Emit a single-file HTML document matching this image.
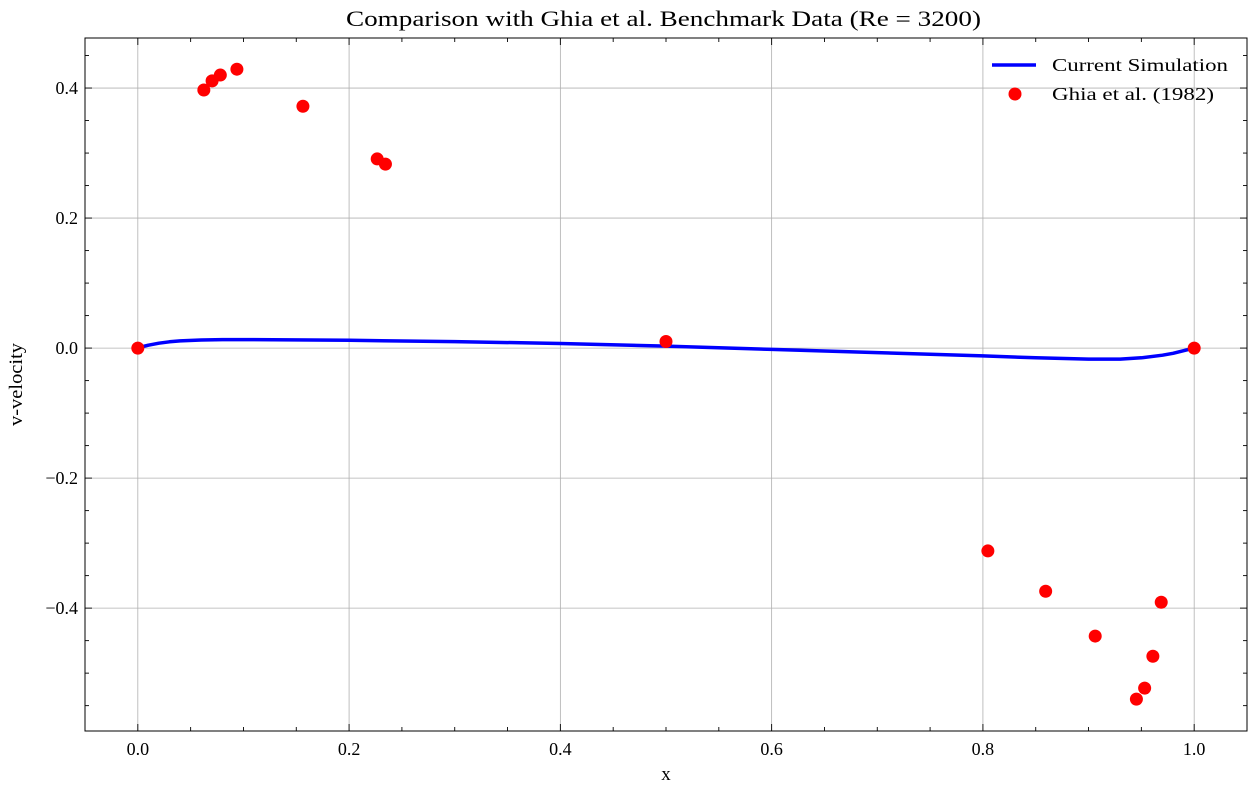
<!DOCTYPE html>
<html><head><meta charset="utf-8"><style>
body{margin:0;background:#fff;}
svg text{font-family:"Liberation Serif","DejaVu Serif",serif;fill:#000;}
</style></head><body>
<svg id="chart" width="1254" height="791" xmlns="http://www.w3.org/2000/svg"></svg>
<script>
const xTicks=[0,0.2,0.4,0.6,0.8,1.0];
const xTickLabels=["0.0","0.2","0.4","0.6","0.8","1.0"];
const yTicks=[-0.4,-0.2,0,0.2,0.4];
const yTickLabels=["\u22120.4","\u22120.2","0.0","0.2","0.4"];
const ghiaX=[0,0.0625,0.0703,0.0781,0.0938,0.1563,0.2266,0.2344,0.5,0.8047,0.8594,0.9063,0.9453,0.9531,0.9609,0.9688,1.0];
const ghiaY=[0,0.397,0.411,0.420,0.429,0.372,0.291,0.283,0.0101,-0.312,-0.374,-0.443,-0.540,-0.523,-0.474,-0.391,0];
const simX=[0,0.005,0.01,0.02,0.03,0.04,0.06,0.08,0.1,0.2,0.3,0.4,0.5,0.6,0.7,0.8,0.85,0.9,0.93,0.95,0.97,0.98,0.99,1.0];
const simY=[0,0.0025,0.0045,0.0075,0.0097,0.011,0.0125,0.013,0.013,0.012,0.010,0.007,0.003,-0.002,-0.007,-0.012,-0.015,-0.017,-0.017,-0.015,-0.011,-0.008,-0.004,0];

const L=85,R=1247,T=38,B=731;
const xmin=-0.05,xmax=1.05,ymin=-0.589,ymax=0.477;
const sx=v=>L+(v-xmin)/(xmax-xmin)*(R-L);
const sy=v=>B-(v-ymin)/(ymax-ymin)*(B-T);
const svg=document.getElementById('chart');
const NS="http://www.w3.org/2000/svg";
function mk(tag,attrs,parent){const e=document.createElementNS(NS,tag);for(const k in attrs)e.setAttribute(k,attrs[k]);(parent||svg).appendChild(e);return e;}

xTicks.forEach(v=>{const l=mk('line',{x1:sx(v),x2:sx(v),y1:T,y2:B,stroke:'#b0b0b0','stroke-width':0.8});

});
yTicks.forEach(v=>{const l=mk('line',{x1:L,x2:R,y1:sy(v),y2:sy(v),stroke:'#b0b0b0','stroke-width':0.8});

});

let d=simX.map((x,i)=>(i?'L':'M')+sx(x).toFixed(1)+','+sy(simY[i]).toFixed(1)).join(' ');
const c=mk('path',{d:d,fill:'none',stroke:'#0000ff','stroke-width':3.5,'stroke-linejoin':'round'});



ghiaX.forEach((x,i)=>{const p=mk('circle',{cx:sx(x),cy:sy(ghiaY[i]),r:6.5,fill:'#ff0000'});

});

const f=mk('rect',{x:L,y:T,width:R-L,height:B-T,fill:'none',stroke:'#000','stroke-width':1});



for(let v=-0.05;v<=1.0501;v+=0.05){const major=xTicks.some(t=>Math.abs(t-v)<1e-6);const len=major?7:4;
mk('line',{x1:sx(v),x2:sx(v),y1:B,y2:B-len,stroke:'#000','stroke-width':0.9});
mk('line',{x1:sx(v),x2:sx(v),y1:T,y2:T+len,stroke:'#000','stroke-width':0.9});}
for(let v=-0.55;v<=0.4501;v+=0.05){const major=yTicks.some(t=>Math.abs(t-v)<1e-6);const len=major?7:4;
mk('line',{x1:L,x2:L+len,y1:sy(v),y2:sy(v),stroke:'#000','stroke-width':0.9});
mk('line',{x1:R,x2:R-len,y1:sy(v),y2:sy(v),stroke:'#000','stroke-width':0.9});}

xTicks.forEach((v,i)=>{const t=mk('text',{x:sx(v),y:B+24,'text-anchor':'middle','font-size':18});t.textContent=xTickLabels[i];

});
yTicks.forEach((v,i)=>{const t=mk('text',{x:L-7,y:sy(v)+6,'text-anchor':'end','font-size':18});t.textContent=yTickLabels[i];

});

const xt=mk('text',{x:(L+R)/2,y:780,'text-anchor':'middle','font-size':19});xt.textContent='x';


const yt=mk('text',{x:22,y:(T+B)/2,'text-anchor':'middle','font-size':19,textLength:83,lengthAdjust:'spacingAndGlyphs',transform:'rotate(-90 22 '+((T+B)/2)+')'});yt.textContent='v-velocity';


const tt=mk('text',{x:346,y:26,'font-size':22,textLength:635,lengthAdjust:'spacingAndGlyphs'});tt.textContent='Comparison with Ghia et al. Benchmark Data (Re = 3200)';



const g=mk('g',{});


mk('line',{x1:992,x2:1036,y1:65,y2:65,stroke:'#0000ff','stroke-width':3.5},g);
const l1=mk('text',{x:1052,y:71,'font-size':18,textLength:176,lengthAdjust:'spacingAndGlyphs'},g);l1.textContent='Current Simulation';


mk('circle',{cx:1015,cy:94,r:6.5,fill:'#ff0000'},g);
const l2=mk('text',{x:1052,y:100,'font-size':18,textLength:162,lengthAdjust:'spacingAndGlyphs'},g);l2.textContent='Ghia et al. (1982)';


</script>
</body></html>
